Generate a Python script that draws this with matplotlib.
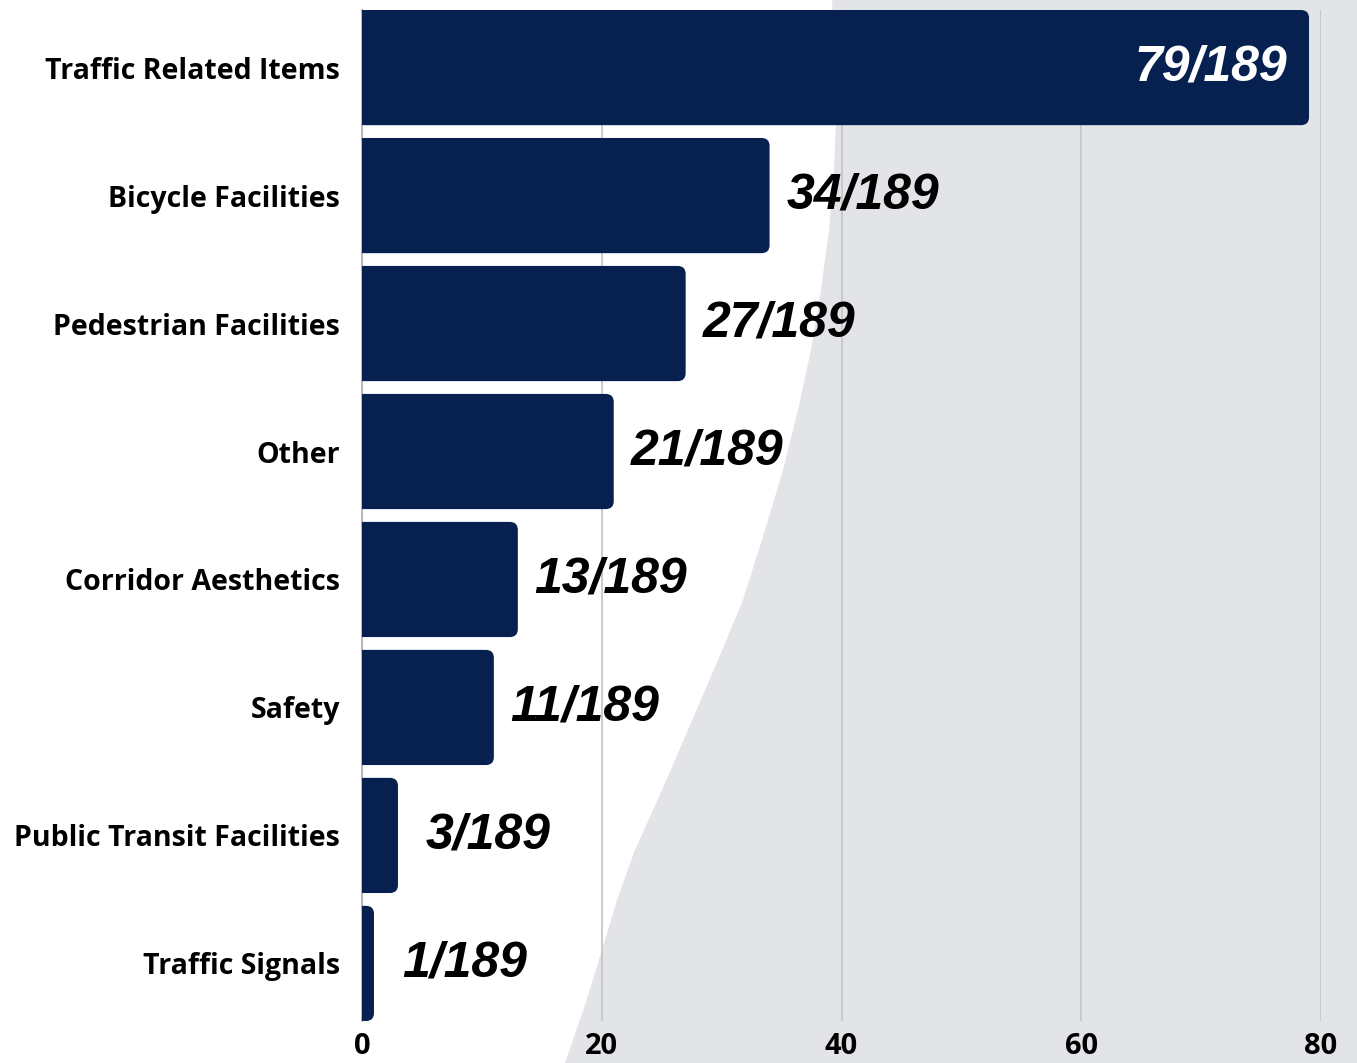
import numpy as np
import matplotlib
matplotlib.use("Agg")
import matplotlib.pyplot as plt
from matplotlib.patches import FancyBboxPatch, Polygon

# data
categories = ["Traffic Related Items", "Bicycle Facilities", "Pedestrian Facilities",
              "Other", "Corridor Aesthetics", "Safety", "Public Transit Facilities",
              "Traffic Signals"]
counts = [79, 34, 27, 21, 13, 11, 3, 1]
total = 189
xticks = [0, 20, 40, 60, 80]

BAR = "#06214F"
GRAY_BG = "#E3E4E8"
GRID = "#C6C7CB"
LABEL_FONT = "Open Sans"

W, H = 1357, 1063
fig = plt.figure(figsize=(W / 100, H / 100), dpi=100, facecolor="white")

# decorative grey wave behind the chart (pixel outline, top-left origin)
wave = [(832, 0), (835, 60), (836, 120), (834, 170), (829, 230), (821, 290),
        (811, 350), (798, 410), (783, 470), (765, 530), (743, 600), (718, 660),
        (690, 725), (662, 790), (635, 850), (617, 900), (602, 950), (585, 1005),
        (565, 1063), (W, H), (W, 0)]
fig.add_artist(Polygon([(x / W, 1 - y / H) for x, y in wave], closed=True,
                       transform=fig.transFigure, facecolor=GRAY_BG,
                       edgecolor="none", zorder=-1))

ax = fig.add_axes([362 / W, 1 - 1021 / H, (1321 - 362) / W, (1021 - 10) / H])
ax.set_facecolor("none")
ax.set_xlim(0, 80)
ax.set_ylim(len(categories) - 0.55, -0.45)

bar_h = 0.9
rad = 0.67
aspect = 0.0935
for i, v in enumerate(counts):
    p = FancyBboxPatch((-2, i - bar_h / 2), v + 2, bar_h,
                       boxstyle=f"round,pad=0,rounding_size={rad}",
                       mutation_aspect=aspect, facecolor=BAR, edgecolor="none",
                       zorder=3)
    p.set_clip_path(ax.patch)
    ax.add_patch(p)
    lab = f"{v}/{total}"
    if v > 60:
        ax.annotate(lab, (v, i), xytext=(-16, 0), textcoords="offset points",
                    ha="right", va="center", color="white", fontsize=36,
                    fontweight="bold", fontstyle="italic",
                    family="Liberation Sans", zorder=4)
    else:
        off = 12 if v > 10 else 20
        ax.annotate(lab, (v, i), xytext=(off, 0), textcoords="offset points",
                    ha="left", va="center", color="black", fontsize=36,
                    fontweight="bold", fontstyle="italic",
                    family="Liberation Sans", zorder=4)

ax.set_yticks(range(len(categories)))
ax.set_yticklabels(categories, fontsize=20.5, fontweight="bold", family=LABEL_FONT)
ax.set_xticks(xticks)
ax.set_xticklabels([str(t) for t in xticks], fontsize=21, fontweight="bold",
                   family=LABEL_FONT)
ax.tick_params(axis="both", length=0)
ax.tick_params(axis="y", pad=16)
ax.tick_params(axis="x", pad=8)

for t in xticks[1:]:
    ax.axvline(t, color=GRID, lw=1.3, zorder=1)
for s in ["top", "right", "bottom"]:
    ax.spines[s].set_visible(False)
ax.spines["left"].set_color("#A9AAB0")
ax.spines["left"].set_linewidth(1.2)

fig.savefig("out.png", dpi=100, facecolor="white")
